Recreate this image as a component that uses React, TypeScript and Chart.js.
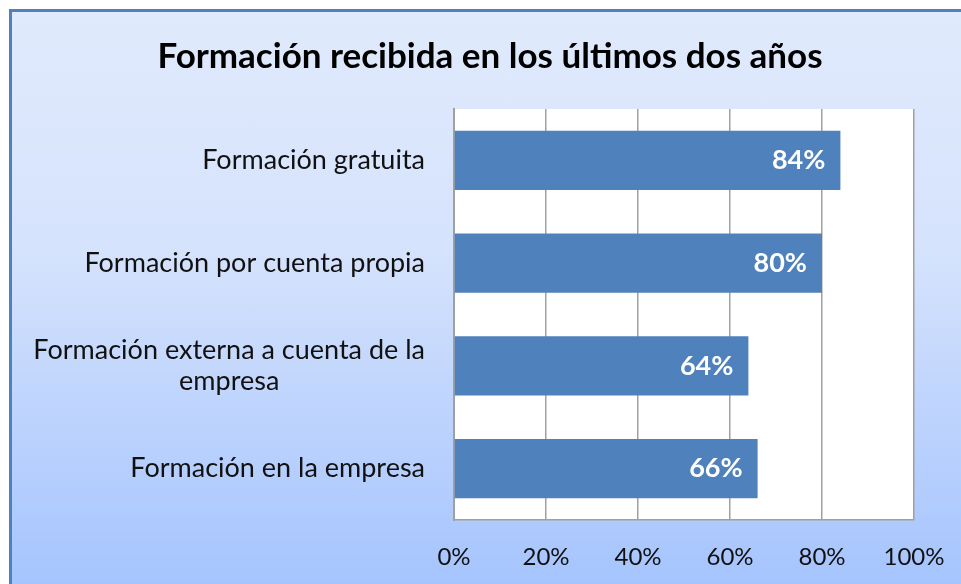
import React, { useEffect, useRef } from "react";
import { Chart, registerables } from "chart.js";

Chart.register(...registerables);

const TITLE = "Formación recibida en los últimos dos años";
const categories: (string | string[])[] = [
  "Formación gratuita",
  "Formación por cuenta propia",
  ["Formación externa a cuenta de la", "empresa"],
  "Formación en la empresa",
];
const values = [84, 80, 64, 66];
const xTicks = [0, 20, 40, 60, 80, 100];

const FONT = "Lato, 'Open Sans', sans-serif";

const labelPlugin = {
  id: "yLabels",
  afterDraw(chart: any) {
    const ctx = chart.ctx;
    const y = chart.scales.y;
    const right = chart.chartArea.left - 29;
    ctx.save();
    ctx.font = `27px ${FONT}`;
    ctx.fillStyle = "#111";
    ctx.textBaseline = "middle";
    ctx.textAlign = "center";
    const lh = 31;
    (chart.data.labels as any[]).forEach((lab, i) => {
      const lines: string[] = Array.isArray(lab) ? lab : [lab];
      const w = Math.max(...lines.map((l) => ctx.measureText(l).width));
      const cy = y.getPixelForTick(i);
      const y0 = cy - ((lines.length - 1) * lh) / 2;
      lines.forEach((l, j) => ctx.fillText(l, right - w / 2, y0 + j * lh));
    });
    ctx.restore();
  },
};

const valuePlugin = {
  id: "valueLabels",
  afterDatasetsDraw(chart: any) {
    const ctx = chart.ctx;
    const meta = chart.getDatasetMeta(0);
    ctx.save();
    ctx.font = `bold 27px ${FONT}`;
    ctx.fillStyle = "#fff";
    ctx.textAlign = "right";
    ctx.textBaseline = "middle";
    meta.data.forEach((bar: any, i: number) => {
      ctx.fillText(values[i] + "%", bar.x - 15, bar.y);
    });
    ctx.restore();
  },
};

const plotBg = {
  id: "plotBg",
  beforeDraw(chart: any) {
    const { ctx, chartArea } = chart;
    ctx.save();
    ctx.fillStyle = "#fff";
    ctx.fillRect(chartArea.left, chartArea.top, chartArea.right - chartArea.left, chartArea.bottom - chartArea.top);
    ctx.restore();
  },
};

export default function App() {
  const ref = useRef<HTMLCanvasElement>(null);
  useEffect(() => {
    const chart = new Chart(ref.current!, {
      type: "bar",
      data: {
        labels: categories,
        datasets: [
          {
            data: values,
            backgroundColor: "#4F81BD",
            barPercentage: 0.575,
            categoryPercentage: 1,
          },
        ],
      },
      options: {
        indexAxis: "y",
        animation: false,
        responsive: false,
        devicePixelRatio: 1,
        layout: { padding: { left: 66, right: 47, top: 0, bottom: 0 } },
        plugins: {
          legend: { display: false },
          tooltip: { enabled: false },
          title: {
            display: true,
            text: TITLE,
            color: "#000",
            font: { family: FONT, size: 35, weight: "bold", lineHeight: 1.2 },
            padding: { top: 36, bottom: 31 },
          },
        },
        scales: {
          x: {
            min: 0,
            max: 100,
            afterBuildTicks: (s: any) => {
              s.ticks = xTicks.map((v) => ({ value: v }));
            },
            afterFit: (s: any) => {
              s.height = 64;
              s.paddingLeft = 0;
              s.paddingRight = 0;
            },
            ticks: {
              callback: (v: any) => v + "%",
              color: "#111",
              font: { family: FONT, size: 24 },
              padding: 23,
              maxRotation: 0,
            },
            grid: { color: "#A0A0A0", drawTicks: false, lineWidth: 1.5 },
            border: { display: true, color: "#A0A0A0", width: 1.5 },
          },
          y: {
            afterFit: (s: any) => {
              s.width = 454 - 66;
              s.paddingTop = 0;
              s.paddingBottom = 0;
            },
            ticks: { display: false },
            grid: { display: false, drawTicks: false },
            border: { display: true, color: "#A0A0A0", width: 2 },
          },
        },
      },
      plugins: [plotBg, labelPlugin, valuePlugin],
    });
    return () => chart.destroy();
  }, []);

  return (
    <div style={{ position: "fixed", left: 0, top: 0, width: 961, height: 584, background: "#fff", overflow: "hidden" }}>
      <div
        style={{
          position: "absolute",
          left: 9,
          top: 9,
          width: 1000,
          height: 620,
          borderLeft: "3px solid #4F81BD",
          borderTop: "3px solid #4F81BD",
          background: "linear-gradient(180deg, #E0EAFC 0px, #D6E3FC 230px, #A5C4FE 575px)",
        }}
      />
      <canvas ref={ref} width={961} height={584} style={{ position: "absolute", left: 0, top: 0, width: 961, height: 584 }} />
    </div>
  );
}
